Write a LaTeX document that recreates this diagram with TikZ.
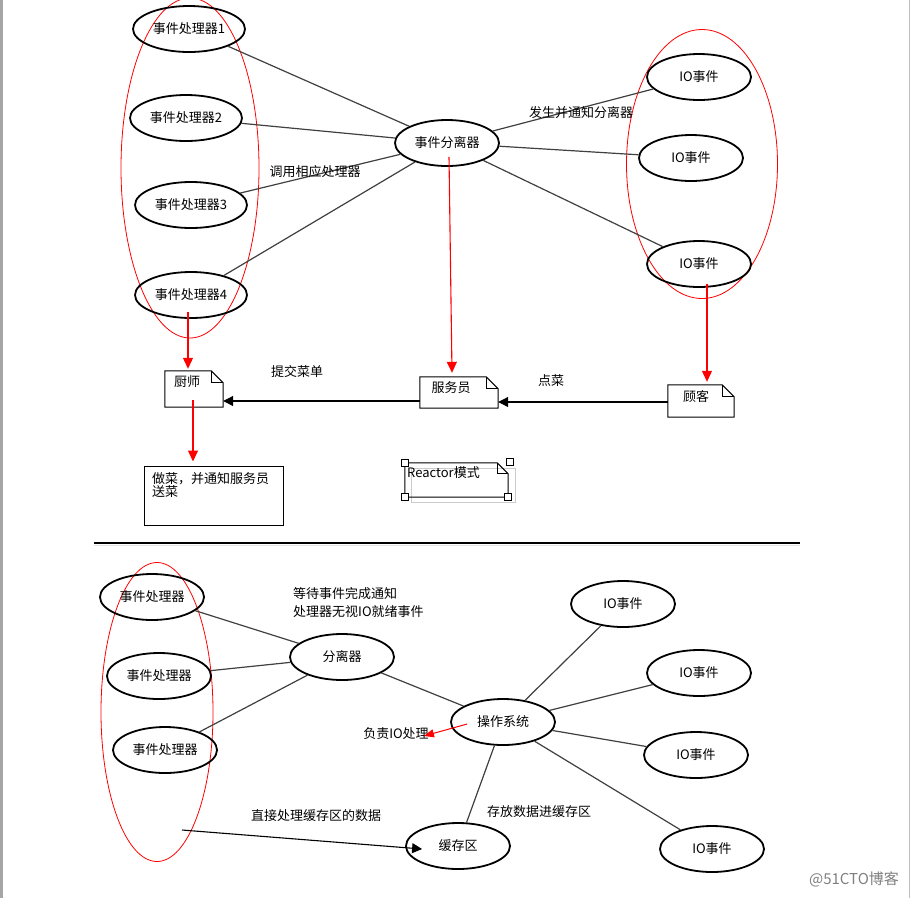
\documentclass[tikz,border=0pt]{standalone}
\usepackage{fontspec}
\setmainfont{Noto Sans CJK SC}
\usetikzlibrary{shapes.geometric,arrows.meta}
\newcommand\drawnote[2]{%
  \draw[line width=1pt] (#1.north west) -- ([xshift=-#2]#1.north east) -- ([yshift=-#2]#1.north east) -- (#1.south east) -- (#1.south west) -- cycle;
  \draw[line width=0.8pt] ([xshift=-#2]#1.north east) -- ([xshift=-#2,yshift=-#2]#1.north east) -- ([yshift=-#2]#1.north east);}
\begin{document}
\begin{tikzpicture}[x=1pt,y=-1pt,
  every node/.style={font=\fontsize{13}{15}\selectfont},
  ell/.style={draw=black, line width=1.8pt, ellipse, inner sep=0pt, minimum width=104pt, minimum height=46pt},
  wide/.style={minimum width=112pt},
  grp/.style={draw=red, line width=0.8pt, ellipse, inner sep=0pt},
  conn/.style={draw=black!75, line width=1.2pt},
  redarr/.style={draw=red, line width=1.1pt, -{Triangle[length=11pt,width=10pt]}},
  blkarr/.style={draw=black, line width=1.1pt, -{Triangle[length=10pt,width=10pt]}},
  lbl/.style={inner sep=0pt},
  box/.style={inner sep=0pt, draw=none},
  handle/.style={draw=black, fill=white, line width=0.7pt, minimum size=7pt, inner sep=0pt}
]
\useasboundingbox (0,0) rectangle (913,898);
\fill[white] (0,0) rectangle (913,898);
% page edges
\fill[black!35] (0,0) rectangle (3,898);
\draw[black!25, line width=1pt] (909.5,0) -- (909.5,898);

% ---------- top part ----------
\node[grp, minimum width=138pt, minimum height=340pt] (gL) at (190,168) {};
\node[grp, minimum width=151pt, minimum height=269pt] (gR) at (702,164) {};

\node[ell, wide] (h1) at (189,29) {事件处理器1};
\node[ell, wide] (h2) at (186,118) {事件处理器2};
\node[ell, wide] (h3) at (191,205) {事件处理器3};
\node[ell, wide] (h4) at (191,295) {事件处理器4};
\node[ell] (disp) at (447,143) {事件分离器};
\node[ell] (io1) at (699,77) {IO事件};
\node[ell] (io2) at (691,158) {IO事件};
\node[ell] (io3) at (699,264) {IO事件};

\draw[conn] (h1) -- (disp);
\draw[conn] (h2) -- (disp);
\draw[conn] (h3) -- (disp);
\draw[conn] (h4) -- (disp);
\draw[conn] (disp) -- (io1);
\draw[conn] (disp) -- (io2);
\draw[conn] (disp) -- (io3);

\node[lbl] (t1) at (315,172) {调用相应处理器};
\node[lbl] (t2) at (581,113) {发生并通知分离器};

% notes
\node[box, minimum width=58pt, minimum height=36pt] (chef) at (194,389) {};
\node[box, minimum width=78pt, minimum height=31pt] (waiter) at (459,392.5) {};
\node[box, minimum width=66pt, minimum height=32pt] (cust) at (701,401) {};
\drawnote{chef}{12pt}
\drawnote{waiter}{12pt}
\drawnote{cust}{12pt}
\node[lbl] (chefT) at (187,382) {厨师};
\node[lbl] (waiterT) at (451,388) {服务员};
\node[lbl] (custT) at (696,397) {顾客};

\node[box, draw=black, line width=1pt, minimum width=139pt, minimum height=59pt] (cook) at (213.5,495.5) {};
\node[lbl, anchor=north west, align=left, font=\fontsize{13}{13.5}\selectfont] (cookT) at (152,472) {做菜，并通知服务员\\送菜};

\node[lbl] (t3) at (297,372) {提交菜单};
\node[lbl] (t4) at (551,381) {点菜};

\draw[redarr] ([xshift=-3pt,yshift=7pt]h4.south) -- ([xshift=-3pt,yshift=2pt]h4.south |- chef.north);
\draw[redarr] ([xshift=2pt,yshift=10pt]disp.south) -- ([xshift=-7pt,yshift=4pt]waiter.north);
\draw[redarr] ([xshift=8pt,yshift=4pt]io3.south) -- ([xshift=8pt,yshift=3pt]io3.south |- cust.north);
\draw[redarr] ([xshift=-1pt,yshift=7pt]chef.south) -- ([xshift=-1pt,yshift=4pt]chef.south |- cook.north);

\draw[blkarr] ([yshift=-8.5pt]waiter.west) -- ([yshift=-8.5pt]waiter.west -| chef.east);
\draw[blkarr] ([yshift=-1pt]cust.west) -- ([yshift=-1pt]cust.west -| waiter.east);

% Reactor note (selected)
\draw[black!20, line width=1pt] (411,468) rectangle (515,502);
\node[box, minimum width=103pt, minimum height=34pt] (reactor) at (456.5,480) {};
\drawnote{reactor}{11pt}
\node[lbl, anchor=west] (reactorT) at (407,473) {Reactor模式};
\node[handle] (hd1) at (reactor.north west) {};
\node[handle] (hd2) at ([xshift=2pt,yshift=1pt]reactor.north east) {};
\node[handle] (hd3) at (reactor.south west) {};
\node[handle] (hd4) at (reactor.south east) {};

% separator
\draw[black, line width=1.6pt] (94,543) -- (800,543);
\draw[blue!8!black!10, line width=1.5pt] (94,545.3) -- (800,545.3);

% ---------- bottom part ----------
\node[grp, minimum width=112pt, minimum height=299pt] (gB) at (157,712) {};

\node[ell] (p1) at (152,597) {事件处理器};
\node[ell] (p2) at (159,676) {事件处理器};
\node[ell] (p3) at (165,750) {事件处理器};
\node[ell] (sep) at (342,657) {分离器};
\node[ell] (os) at (503,722) {操作系统};
\node[ell] (cache) at (458,846) {缓存区};
\node[ell] (e1) at (623,604) {IO事件};
\node[ell] (e2) at (699,673) {IO事件};
\node[ell] (e3) at (696,755) {IO事件};
\node[ell] (e4) at (712,849) {IO事件};

\draw[conn] (p1) -- (sep);
\draw[conn] (p2) -- (sep);
\draw[conn] (p3) -- (sep);
\draw[conn] (sep) -- (os);
\draw[conn] (os) -- (e1);
\draw[conn] (os) -- (e2);
\draw[conn] (os) -- (e3);
\draw[conn] (os) -- (e4);
\draw[conn] (os) -- (cache);

\node[lbl, anchor=north west, align=left, font=\fontsize{13}{18}\selectfont] (t5) at (293,587) {等待事件完成通知\\处理器无视IO就绪事件};
\node[lbl] (t6) at (396,734) {负责IO处理};
\node[lbl] (t7) at (316,816) {直接处理缓存区的数据};
\node[lbl] (t8) at (539,812) {存放数据进缓存区};

\draw[red, line width=1pt, -{Triangle[length=10pt,width=8pt]}] ([xshift=17pt,yshift=-2pt]os.west) -- ([xshift=-5pt,yshift=-2pt]t6.east);

\coordinate (src) at (182,830);
\draw[blkarr] (src) -- ([xshift=17pt,yshift=-3pt]cache.west);

\node[lbl, text=black!50, font=\fontsize{15}{17}\selectfont] (wm) at (854,879) {@51CTO博客};
\end{tikzpicture}
\end{document}
